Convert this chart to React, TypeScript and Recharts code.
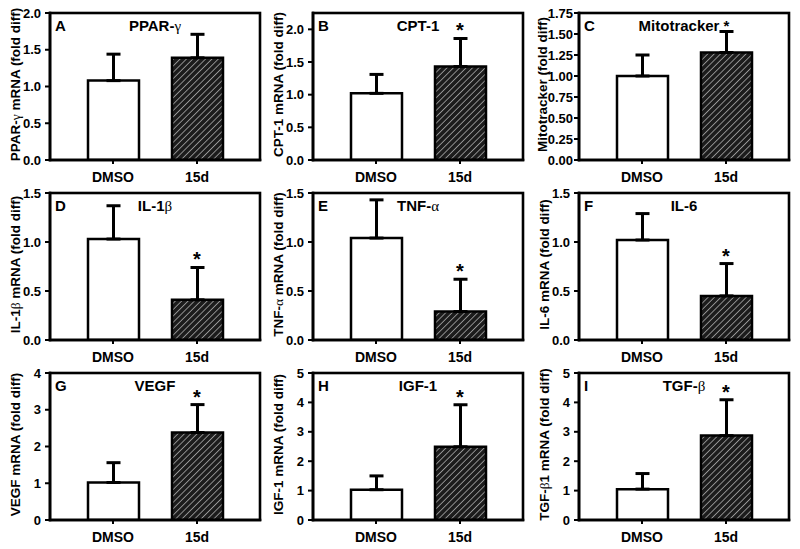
import React from 'react';
import { BarChart, Bar, XAxis, YAxis, Cell, ErrorBar, ReferenceDot } from 'recharts';

const categories = ['DMSO', '15d'];

const ppargMean = [1.08, 1.39];
const ppargErr = [0.36, 0.32];
const cpt1Mean = [1.02, 1.43];
const cpt1Err = [0.29, 0.43];
const mitoMean = [1.0, 1.28];
const mitoErr = [0.25, 0.25];
const il1bMean = [1.03, 0.41];
const il1bErr = [0.34, 0.33];
const tnfaMean = [1.04, 0.29];
const tnfaErr = [0.39, 0.33];
const il6Mean = [1.02, 0.45];
const il6Err = [0.27, 0.33];
const vegfMean = [1.02, 2.38];
const vegfErr = [0.54, 0.76];
const igf1Mean = [1.03, 2.49];
const igf1Err = [0.47, 1.43];
const tgfbMean = [1.05, 2.87];
const tgfbErr = [0.53, 1.22];

const noStar = [false, false];
const star15d = [false, true];

const ticksTwo = [0, 0.5, 1.0, 1.5, 2.0];
const ticksMito = [0, 0.25, 0.5, 0.75, 1.0, 1.25, 1.5, 1.75];
const ticksOneHalf = [0, 0.5, 1.0, 1.5];
const ticksFour = [0, 1, 2, 3, 4];
const ticksFive = [0, 1, 2, 3, 4, 5];

const SANS = "'Liberation Sans', Arial, Helvetica, sans-serif";
const SERIF = "'Liberation Serif', 'Times New Roman', serif";
const GREEK = /([\u0370-\u03FF])/;

function rich(text: string) {
  return text
    .split(GREEK)
    .filter((s) => s.length > 0)
    .map((s, i) =>
      GREEK.test(s) ? (
        <tspan key={i} fontFamily={SERIF} fontWeight="normal">
          {s}
        </tspan>
      ) : (
        <tspan key={i}>{s}</tspan>
      )
    );
}

const axisStyle = { stroke: '#000', strokeWidth: 2.6, strokeLinecap: 'square' as const };
const PLOT_W = 210;

type PanelProps = {
  id: string;
  letter: string;
  title: string;
  yLabel: string;
  means: number[];
  errs: number[];
  sig: boolean[];
  ticks: number[];
  yMax: number;
  decimals: number;
  left: number;
  top: number;
  plotH: number;
  tickGap?: number;
  labelOffset?: number;
};

function Panel(p: PanelProps) {
  const data = categories.map((c, i) => ({ name: c, value: p.means[i], err: [0, p.errs[i]] }));
  const W = 50 + PLOT_W + 6;
  const H = 10 + p.plotH + 30;
  const fills = ['#ffffff', `url(#hatch-${p.id})`];
  const labelOffset = p.labelOffset ?? 35;

  const yLabelContent = (props: any) => {
    const vb = props.viewBox || {};
    const px = vb.x + vb.width;
    const py = vb.y;
    const cx = px - labelOffset;
    const cy = vb.y + vb.height / 2 - 2;
    return (
      <g>
        <rect
          x={px}
          y={py}
          width={PLOT_W}
          height={vb.height}
          fill="none"
          stroke="#000"
          strokeWidth={2.6}
        />
        <text
          x={cx}
          y={cy}
          transform={`rotate(-90, ${cx}, ${cy})`}
          textAnchor="middle"
          dominantBaseline="central"
          fontSize={13.5}
          fontWeight="bold"
          fill="#000"
          fontFamily={SANS}
        >
          {rich(p.yLabel)}
        </text>
        <text x={px + 5} y={py + 18} fontSize={15} fontWeight="bold" fill="#000" fontFamily={SANS}>
          {p.letter}
        </text>
        <text
          x={px + PLOT_W / 2}
          y={py + 18}
          textAnchor="middle"
          fontSize={15}
          fontWeight="bold"
          fill="#000"
          fontFamily={SANS}
        >
          {rich(p.title)}
        </text>
      </g>
    );
  };

  const starShape = (props: any) => (
    <text
      x={props.cx}
      y={props.cy - 1}
      textAnchor="middle"
      fontSize={20}
      fontWeight="bold"
      fill="#000"
      fontFamily={SANS}
    >
      *
    </text>
  );

  return (
    <div style={{ position: 'absolute', left: p.left - 50, top: p.top - 10, fontFamily: SANS }}>
      <BarChart width={W} height={H} data={data} margin={{ top: 10, right: 6, bottom: 0, left: 0 }}>
        <defs>
          <pattern
            id={`hatch-${p.id}`}
            patternUnits="userSpaceOnUse"
            width={4.5}
            height={4.5}
            patternTransform="rotate(45)"
          >
            <rect width={4.5} height={4.5} fill="#1c1c1c" />
            <line x1={0} y1={0} x2={0} y2={4.5} stroke="#c8c8c8" strokeWidth={1.3} />
          </pattern>
        </defs>
        <XAxis
          dataKey="name"
          padding={{ left: 21, right: 21 }}
          height={30}
          tickSize={4}
          tickMargin={8}
          interval={0}
          axisLine={axisStyle}
          tickLine={{ stroke: '#000', strokeWidth: 2 }}
          tick={{ fill: '#000', fontSize: 14, fontWeight: 'bold', fontFamily: SANS }}
        />
        <YAxis
          domain={[0, p.yMax]}
          ticks={p.ticks}
          width={50}
          tickSize={5}
          tickMargin={p.tickGap ?? 4}
          interval={0}
          allowDataOverflow
          tickFormatter={(v: number) => v.toFixed(p.decimals)}
          axisLine={axisStyle}
          tickLine={{ stroke: '#000', strokeWidth: 2 }}
          tick={{ fill: '#000', fontSize: 13, fontWeight: 'bold', fontFamily: SANS }}
          label={{ content: yLabelContent }}
        />
        <Bar dataKey="value" barSize={51} stroke="#000" strokeWidth={2.5} isAnimationActive={false}>
          {data.map((d, i) => (
            <Cell key={d.name} fill={fills[i]} />
          ))}
          <ErrorBar dataKey="err" width={7} strokeWidth={3} stroke="#000" direction="y" />
        </Bar>
        {data.map((d, i) =>
          p.sig[i] ? (
            <ReferenceDot
              key={`s-${d.name}`}
              x={d.name}
              y={p.means[i] + p.errs[i]}
              r={0}
              shape={starShape}
            />
          ) : null
        )}
      </BarChart>
    </div>
  );
}

const COL = [50, 313, 579];
const ROW = [13, 193, 373];
const PLOT_H = 147;

export default function App() {
  return (
    <div style={{ position: 'absolute', left: 0, top: 0, width: 800, height: 549, background: '#fff', overflow: 'hidden' }}>
      <Panel id="a" letter="A" title="PPAR-γ" yLabel="PPAR-γ mRNA (fold diff)" means={ppargMean} errs={ppargErr} sig={noStar} ticks={ticksTwo} yMax={2} decimals={1} left={COL[0]} top={ROW[0]} plotH={PLOT_H} />
      <Panel id="b" letter="B" title="CPT-1" yLabel="CPT-1 mRNA (fold diff)" means={cpt1Mean} errs={cpt1Err} sig={star15d} ticks={ticksTwo} yMax={2.25} decimals={1} left={COL[1]} top={ROW[0]} plotH={PLOT_H} />
      <Panel id="c" letter="C" title="Mitotracker *" yLabel="Mitotracker (fold diff)" means={mitoMean} errs={mitoErr} sig={noStar} ticks={ticksMito} yMax={1.75} decimals={2} left={COL[2]} top={ROW[0]} plotH={PLOT_H} tickGap={1} labelOffset={37} />
      <Panel id="d" letter="D" title="IL-1β" yLabel="IL-1β mRNA (fold diff)" means={il1bMean} errs={il1bErr} sig={star15d} ticks={ticksOneHalf} yMax={1.5} decimals={1} left={COL[0]} top={ROW[1]} plotH={PLOT_H} />
      <Panel id="e" letter="E" title="TNF-α" yLabel="TNF-α mRNA (fold diff)" means={tnfaMean} errs={tnfaErr} sig={star15d} ticks={ticksOneHalf} yMax={1.5} decimals={1} left={COL[1]} top={ROW[1]} plotH={PLOT_H} />
      <Panel id="f" letter="F" title="IL-6" yLabel="IL-6 mRNA (fold diff)" means={il6Mean} errs={il6Err} sig={star15d} ticks={ticksOneHalf} yMax={1.5} decimals={1} left={COL[2]} top={ROW[1]} plotH={PLOT_H} />
      <Panel id="g" letter="G" title="VEGF" yLabel="VEGF mRNA (fold diff)" means={vegfMean} errs={vegfErr} sig={star15d} ticks={ticksFour} yMax={4} decimals={0} left={COL[0]} top={ROW[2]} plotH={PLOT_H} />
      <Panel id="h" letter="H" title="IGF-1" yLabel="IGF-1 mRNA (fold diff)" means={igf1Mean} errs={igf1Err} sig={star15d} ticks={ticksFive} yMax={5} decimals={0} left={COL[1]} top={ROW[2]} plotH={PLOT_H} />
      <Panel id="i" letter="I" title="TGF-β" yLabel="TGF-β1 mRNA (fold diff)" means={tgfbMean} errs={tgfbErr} sig={star15d} ticks={ticksFive} yMax={5} decimals={0} left={COL[2]} top={ROW[2]} plotH={PLOT_H} />
    </div>
  );
}
